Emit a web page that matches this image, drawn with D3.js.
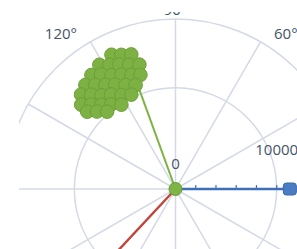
<!DOCTYPE html>
<html><head><meta charset="utf-8">
<script src="https://cdn.jsdelivr.net/npm/d3@7"></script>
<style>html,body{margin:0;padding:0;background:#fff;}svg{display:block;}</style>
</head><body>
<svg id="c" width="297" height="249"></svg>
<script>
// ---- data ----
const angleTicks = [0, 30, 60, 90, 120, 150, 180, 210, 240, 270, 300, 330];
const radialTickLabels = [0, 10000];
const radialMinorTicks = [2000, 4000, 6000, 8000, 10000];
const radialMax = 16800;

const blueTheta = [0, 0];
const blueR = [0, 11300];
const redTheta = [227, 227];
const redR = [0, 11000];
const greenLineTheta = [110, 110];
const greenLineR = [0, 10600];

const greenR = [14700,14300,14000, 14400,13900,13500,13100,12800,
  14000,13500,12900,12500,12100,11800, 13600,13000,12400,11900,11400,11000,
  13200,12500,11800,11300,10700,10300, 12500,11800,11100,10500,9900,
  11600,10900,10200];
const greenTheta = [115.5,112,108.2, 121.5,118,114.3,110.4,106.2,
  126.4,123,119.3,115.3,111.1,107.1, 130.9,127.6,123.9,120,115.7,111,
  135,131.8,128.2,124.2,119.9,115.1, 138.2,135,131.4,127.3,122.7,
  138.8,135.4,131.5];

// ---- drawing ----
const svg = d3.select('#c');
const cx = 175.5, cy = 189;
const r = d3.scaleLinear().domain([0, radialMax]).range([0, 170]);
const P = (theta, rv) => {
  const a = theta * Math.PI / 180;
  return [cx + r(rv) * Math.cos(a), cy - r(rv) * Math.sin(a)];
};

svg.append('defs').append('clipPath').attr('id', 'clip')
  .append('rect').attr('x', 19).attr('y', 12).attr('width', 278).attr('height', 237);
const g = svg.append('g').attr('clip-path', 'url(#clip)');

const gridColor = '#d3dae6';
g.append('circle').attr('cx', cx).attr('cy', cy).attr('r', r(10000))
  .attr('fill', 'none').attr('stroke', gridColor).attr('stroke-width', 1.5);
g.append('circle').attr('cx', cx).attr('cy', cy).attr('r', r(radialMax))
  .attr('fill', 'none').attr('stroke', gridColor).attr('stroke-width', 1.5);
g.selectAll('line.spoke').data(angleTicks).enter().append('line')
  .attr('class', 'spoke')
  .attr('x1', cx).attr('y1', cy)
  .attr('x2', d => P(d, radialMax)[0]).attr('y2', d => P(d, radialMax)[1])
  .attr('stroke', gridColor).attr('stroke-width', 1.5);

const textColor = '#44546a';
g.selectAll('text.ang').data(angleTicks).enter().append('text')
  .attr('class', 'ang')
  .attr('x', d => cx + 197 * Math.cos(d * Math.PI / 180))
  .attr('y', d => cy - 180 * Math.sin(d * Math.PI / 180) + 6)
  .attr('text-anchor', d => {
    const c = Math.cos(d * Math.PI / 180);
    return c < -0.1 ? 'end' : (c > 0.1 ? 'start' : 'middle');
  })
  .attr('font-family', 'Open Sans, sans-serif').attr('font-size', 15)
  .attr('fill', textColor)
  .text(d => d + '°');

const line = d3.line().x(d => P(d[0], d[1])[0]).y(d => P(d[0], d[1])[1]);

g.append('path').datum(d3.zip(redTheta, redR)).attr('d', line)
  .attr('stroke', '#c0453b').attr('stroke-width', 2.4).attr('fill', 'none');
g.append('path').datum(d3.zip(greenLineTheta, greenLineR)).attr('d', line)
  .attr('stroke', '#7cb342').attr('stroke-width', 2).attr('fill', 'none');
g.append('path').datum(d3.zip(blueTheta, blueR)).attr('d', line)
  .attr('stroke', '#3f6fb8').attr('stroke-width', 2.4).attr('fill', 'none');
g.selectAll('line.rt').data(radialMinorTicks).enter().append('line')
  .attr('class', 'rt')
  .attr('x1', d => P(0, d)[0]).attr('x2', d => P(0, d)[0])
  .attr('y1', cy).attr('y2', cy - 4)
  .attr('stroke', '#3f6fb8').attr('stroke-width', 1.2);
const bEnd = P(blueTheta[1], blueR[1]);
g.append('rect').attr('x', bEnd[0] - 6.5).attr('y', bEnd[1] - 6)
  .attr('width', 13).attr('height', 12).attr('rx', 3)
  .attr('fill', '#4a7cc4').attr('stroke', '#3a66a8').attr('stroke-width', 1);

g.selectAll('circle.gp').data(d3.zip(greenTheta, greenR)).enter().append('circle')
  .attr('class', 'gp')
  .attr('cx', d => P(d[0], d[1])[0]).attr('cy', d => P(d[0], d[1])[1])
  .attr('r', 6.8)
  .attr('fill', '#7db144').attr('stroke', '#6e9f3a').attr('stroke-width', 1);

g.append('circle').attr('cx', cx).attr('cy', cy).attr('r', 6.5)
  .attr('fill', '#7fb446').attr('stroke', '#669a35').attr('stroke-width', 1);

g.selectAll('text.rl').data(radialTickLabels).enter().append('text')
  .attr('class', 'rl')
  .attr('x', d => cx + r(d))
  .attr('y', d => cy - 20 - r(d) * Math.tan(8 * Math.PI / 180))
  .attr('text-anchor', 'middle')
  .attr('font-family', 'Open Sans, sans-serif').attr('font-size', 15)
  .attr('fill', textColor)
  .text(d => d);
</script>
</body></html>
